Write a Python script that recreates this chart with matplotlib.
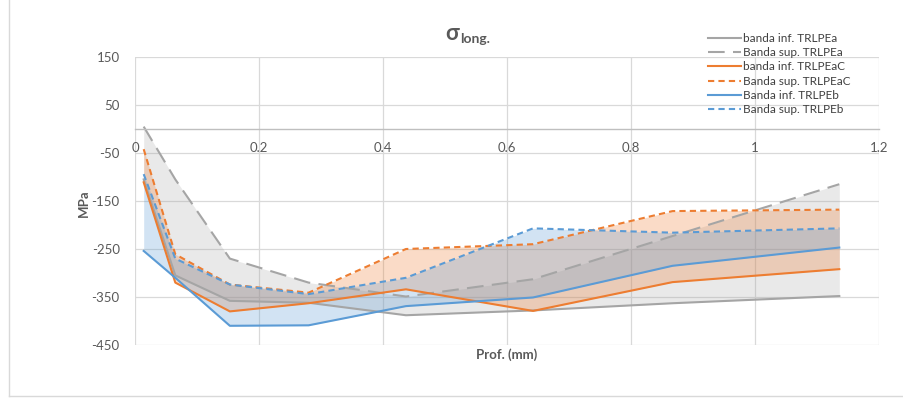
import matplotlib
matplotlib.use("Agg")
import matplotlib.pyplot as plt
from matplotlib.lines import Line2D
import numpy as np

plt.rcParams['font.family'] = ['Lato', 'DejaVu Sans']
plt.rcParams['axes.unicode_minus'] = False

# depth (mm)
prof = [0.014, 0.065, 0.153, 0.28, 0.437, 0.642, 0.867, 1.136]

inf_trlpea = [-105, -305, -358, -362, -388, -378, -363, -348]
sup_trlpea = [5, -105, -270, -320, -349, -313, -223, -115]
inf_trlpeac = [-111, -320, -380, -363, -334, -379, -319, -292]
sup_trlpeac = [-42, -261, -324, -341, -250, -240, -171, -168]
inf_trlpeb = [-254, -310, -410, -409, -369, -351, -285, -247]
sup_trlpeb = [-94, -270, -324, -344, -310, -207, -216, -207]

labels = ["banda inf. TRLPEa", "Banda sup. TRLPEa",
          "banda inf. TRLPEaC", "Banda sup. TRLPEaC",
          "Banda inf. TRLPEb", "Banda sup. TRLPEb"]

gray = "#a5a5a5"
orange = "#ed7d31"
blue = "#5b9bd5"
txt = "#595959"

fig = plt.figure(figsize=(9.04, 4.07), dpi=100)
ax = fig.add_axes([135 / 904, 1 - 345 / 407, (879 - 135) / 904, (345 - 57) / 407])

ax.fill_between(prof, inf_trlpea, sup_trlpea, color=gray, alpha=0.24, lw=0)
ax.fill_between(prof, inf_trlpeac, sup_trlpeac, color=orange, alpha=0.27, lw=0)
ax.fill_between(prof, inf_trlpeb, sup_trlpeb, color=blue, alpha=0.27, lw=0)

ax.plot(prof, inf_trlpea, color=gray, lw=1.5, label=labels[0])
ax.plot(prof, sup_trlpea, color=gray, lw=1.5, dashes=(8, 4), label=labels[1])
ax.plot(prof, inf_trlpeac, color=orange, lw=1.5, label=labels[2])
ax.plot(prof, sup_trlpeac, color=orange, lw=1.5, dashes=(3, 2), label=labels[3])
ax.plot(prof, inf_trlpeb, color=blue, lw=1.5, label=labels[4])
ax.plot(prof, sup_trlpeb, color=blue, lw=1.5, dashes=(3, 2), label=labels[5])

ax.set_xlim(0, 1.2)
ax.set_ylim(-450, 150)
ax.set_xticks(np.arange(0, 1.21, 0.2))
ax.set_xticklabels(["0", "0.2", "0.4", "0.6", "0.8", "1", "1.2"])
ax.set_yticks(np.arange(-450, 151, 100))
ax.grid(True, color="#d9d9d9", lw=0.9)
ax.set_axisbelow(True)

for s in ["top", "right", "left"]:
    ax.spines[s].set_visible(False)
ax.spines["bottom"].set_position(("data", 0))
ax.spines["bottom"].set_color("#bfbfbf")
ax.spines["bottom"].set_linewidth(1.0)
ax.tick_params(axis="both", length=0, labelsize=9.5, colors=txt)
ax.tick_params(axis="x", pad=9)
ax.tick_params(axis="y", pad=11)

fig.text(507 / 904, 1 - 355 / 407, "Prof. (mm)", ha="center", va="center",
         fontsize=9.5, fontweight="bold", color=txt)
fig.text(84 / 904, 1 - 203 / 407, "MPa", ha="center", va="center",
         rotation=90, fontsize=9.5, fontweight="bold", color=txt)

# title: sigma with subscript
fig.text(452 / 904, 1 - 33 / 407, "σ", ha="center", va="center",
         fontsize=16, fontweight="bold", color=txt)
fig.text(460 / 904, 1 - 39 / 407, "long.", ha="left", va="center",
         fontsize=10, fontweight="bold", color=txt)

leg = fig.legend(loc="upper left", bbox_to_anchor=(703 / 904, 1 - 28 / 407),
                 frameon=False, fontsize=8.5, handlelength=2.8,
                 labelspacing=0.28, handletextpad=0.2, borderaxespad=0)
for t in leg.get_texts():
    t.set_color("#404040")

# chart area border
fig.add_artist(Line2D([9 / 904, 9 / 904], [1, 1 - 396 / 407], color="#d9d9d9", lw=1))
fig.add_artist(Line2D([9 / 904, 1], [1 - 396 / 407, 1 - 396 / 407], color="#d9d9d9", lw=1))

fig.savefig("out.png", dpi=100)
